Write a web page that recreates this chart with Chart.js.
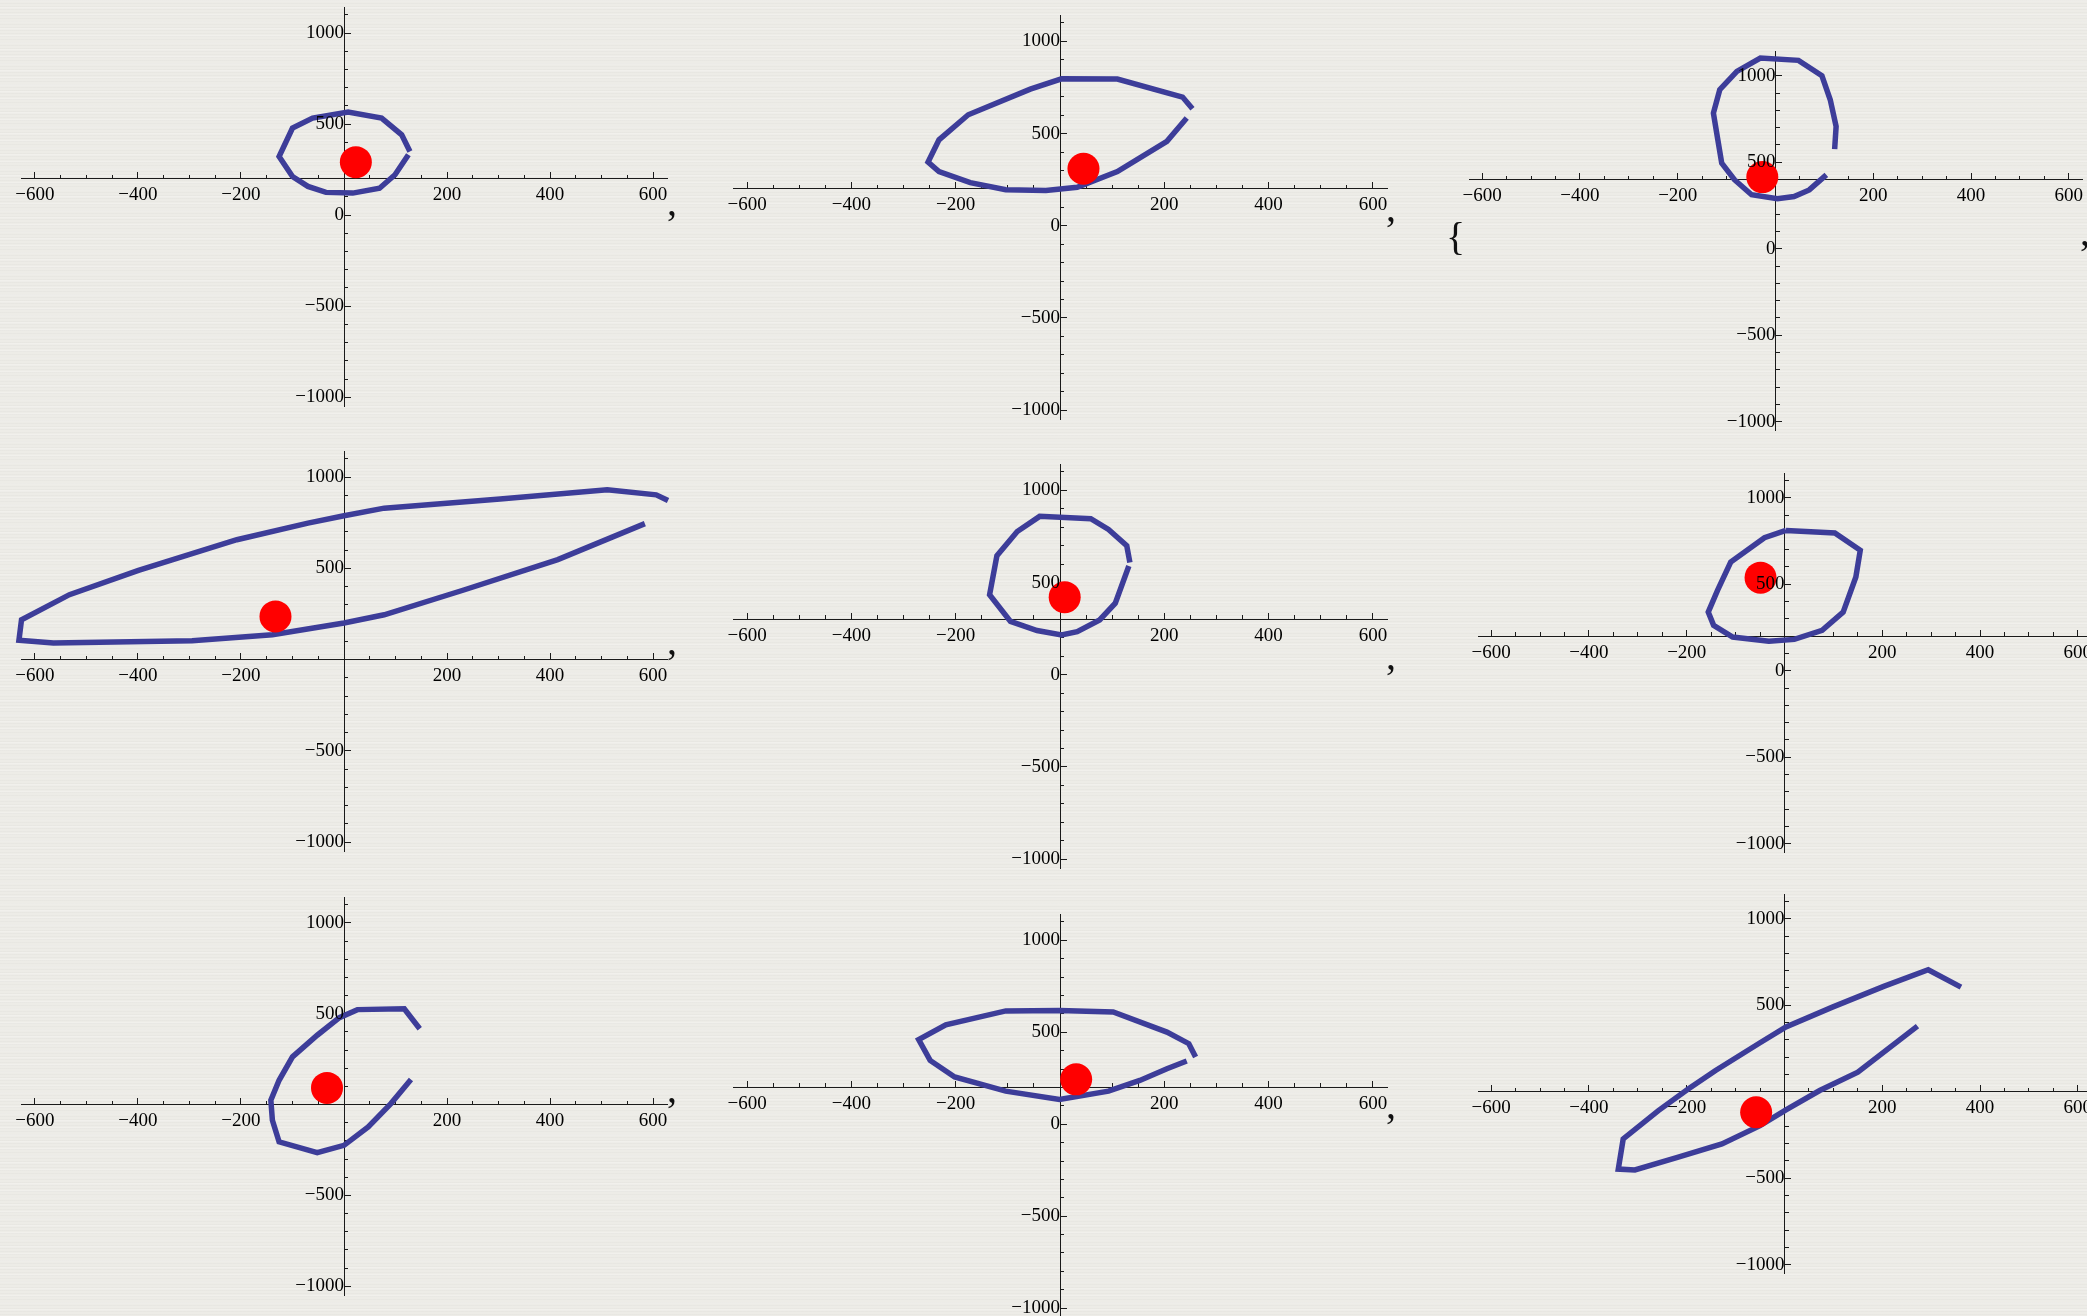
<!DOCTYPE html>
<html>
<head>
<meta charset="utf-8">
<title>Orbits</title>
<script src="https://cdn.jsdelivr.net/npm/chart.js@4.4.1/dist/chart.umd.min.js"></script>
<style>
  html, body { margin: 0; padding: 0; }
  body {
    width: 2087px; height: 1316px; overflow: hidden; position: relative;
    background-color: #edece7;
    background-image:
      repeating-linear-gradient(180deg, rgba(0,0,0,0.02) 0px, rgba(0,0,0,0.02) 1px, transparent 1px, transparent 3px),
      repeating-linear-gradient(180deg, rgba(255,255,255,0.3) 0px, transparent 2px, transparent 7px);
  }
  canvas { position: absolute; }
  .punct { position: absolute; font-family: "Liberation Serif", serif; font-size: 40px; line-height: 1; color: #111; }
</style>
</head>
<body>
<script>
// paths, one per panel, as [x, y]
const curve1 = [[128,350],[112,441],[73,533],[8,566],[-61,533],[-100,478],[-126,322],[-100,212],[-70,158],[-35,125],[17,121],[69,148],[99,222],[125,332]];
const curve2 = [[243,584],[205,458],[110,294],[33,209],[-27,191],[-104,195],[-172,234],[-232,294],[-253,345],[-232,466],[-176,602],[-57,741],[3,797],[110,796],[235,698],[254,635]];
const curve3 = [[121,576],[124,707],[112,861],[95,1000],[47,1089],[-31,1102],[-79,1025],[-114,919],[-127,784],[-118,630],[-110,495],[-84,399],[-49,312],[4,289],[38,302],[69,340],[104,427]];
const curve4 = [[584,745],[415,548],[234,383],[78,246],[0,201],[-139,137],[-295,104],[-564,91],[-631,106],[-626,219],[-533,356],[-399,489],[-208,657],[-70,748],[0,788],[78,830],[303,880],[511,931],[606,903],[629,872]];
const curve5 = [[134,609],[128,700],[93,788],[59,846],[-39,859],[-82,777],[-121,645],[-135,434],[-95,289],[-44,240],[3,216],[33,234],[76,297],[106,388],[132,590]];
const curve6 = [[3,811],[103,796],[155,696],[146,542],[120,339],[77,233],[20,181],[-32,170],[-106,195],[-145,262],[-156,339],[-137,464],[-110,628],[-41,769],[3,811]];
const curve7 = [[147,418],[117,528],[26,523],[-9,479],[-52,382],[-100,263],[-126,134],[-142,24],[-139,-86],[-126,-205],[-52,-264],[0,-224],[47,-123],[91,6],[130,138]];
const curve8 = [[260,365],[247,438],[205,501],[102,610],[-1,619],[-104,616],[-219,541],[-271,460],[-249,347],[-202,257],[-104,180],[-1,135],[93,180],[153,238],[205,302],[243,344]];
const curve9 = [[361,605],[294,705],[203,609],[98,489],[3,374],[-50,283],[-141,123],[-197,16],[-258,-109],[-330,-273],[-340,-447],[-306,-452],[-219,-379],[-128,-302],[-50,-196],[3,-105],[72,7],[150,113],[272,379]];
const curves = [curve1, curve2, curve3, curve4, curve5, curve6, curve7, curve8, curve9];

// the red marker in each panel
const dots = [[23,291],[45,309],[-27,414],[-133,237],[9,421],[-49,538],[-33,92],[31,244],[-58,-119]];

// height at which the horizontal axis crosses
const axisLevels = [200, 200, 400, 0, 300, 200, 0, 200, 0];

// plot ranges and tick steps
const xRange = [-627, 627];
const yRange = [-1048, 1143];
const xSteps = { major: 200, minor: 50 };
const ySteps = { major: 500, minor: 100 };

// where each panel sits on the page: pixel of the origin and px per unit
const frames = [
  { ox: 344.0,  oy: 215.3,  kx: 0.5153, ky: 0.1820 },
  { ox: 1059.7, oy: 225.8,  kx: 0.5216, ky: 0.1842 },
  { ox: 1775.6, oy: 248.8,  kx: 0.4892, ky: 0.1728 },
  { ox: 344.0,  oy: 660.0,  kx: 0.5153, ky: 0.1827 },
  { ox: 1059.7, oy: 674.8,  kx: 0.5216, ky: 0.1842 },
  { ox: 1784.5, oy: 670.3,  kx: 0.4892, ky: 0.1730 },
  { ox: 344.0,  oy: 1104.3, kx: 0.5153, ky: 0.1817 },
  { ox: 1059.7, oy: 1123.8, kx: 0.5216, ky: 0.1838 },
  { ox: 1784.5, oy: 1091.2, kx: 0.4892, ky: 0.1728 }
];

// list punctuation around the panels: [text, left, top]
const punct = [
  [',', 667, 182], [',', 1386, 188], ['{', 1446, 217], [',', 2080, 212],
  [',', 667, 621], [',', 1386, 636],
  [',', 667, 1069], [',', 1386, 1085]
];

const PAD = 40;
const ink = '#1a1a1a';
const lineBlue = 'rgb(61,61,153)';
const tickFont = { family: '"Liberation Serif", "Times New Roman", serif', size: 19 };

Chart.defaults.font.family = tickFont.family;

const fmt = v => (v < 0 ? '\u2212' + (-v) : String(v));

// ticks on every multiple of the step inside the range
function stepTicks(step) {
  return scale => {
    const out = [];
    for (let v = Math.ceil(scale.min / step) * step; v <= scale.max; v += step) {
      out.push({ value: v });
    }
    scale.ticks = out;
  };
}

function axisPair(axis, level, step, minor) {
  const isX = axis === 'x';
  return {
    type: 'linear',
    axis: axis,
    min: isX ? xRange[0] : yRange[0],
    max: isX ? xRange[1] : yRange[1],
    position: isX ? { y: level } : { x: 0 },
    afterBuildTicks: stepTicks(step),
    border: { display: !minor, color: ink, width: 1 },
    grid: {
      drawOnChartArea: false,
      drawTicks: true,
      tickLength: minor ? -4 : -7,
      tickColor: ink,
      tickWidth: 1
    },
    ticks: {
      display: !minor,
      autoSkip: false,
      maxRotation: 0,
      minRotation: 0,
      padding: isX ? 12 : 22,
      color: '#000',
      font: tickFont,
      z: 1,
      callback: v => {
        if (v === 0 && (isX || level === 0)) return '';
        return fmt(v);
      }
    }
  };
}

curves.forEach((curve, i) => {
  const f = frames[i];
  const w = (xRange[1] - xRange[0]) * f.kx;
  const h = (yRange[1] - yRange[0]) * f.ky;
  const left = f.ox + xRange[0] * f.kx;
  const top = f.oy - yRange[1] * f.ky;

  const canvas = document.createElement('canvas');
  canvas.width = Math.round(w + 2 * PAD);
  canvas.height = Math.round(h + 2 * PAD);
  canvas.style.left = (left - PAD) + 'px';
  canvas.style.top = (top - PAD) + 'px';
  document.body.appendChild(canvas);

  const level = axisLevels[i];
  new Chart(canvas, {
    type: 'scatter',
    data: {
      datasets: [
        {
          data: [{ x: dots[i][0], y: dots[i][1] }],
          xAxisID: 'x', yAxisID: 'y',
          pointRadius: 16,
          pointBackgroundColor: '#ff0000',
          pointBorderWidth: 0,
          clip: false
        },
        {
          data: curve.map(p => ({ x: p[0], y: p[1] })),
          xAxisID: 'x', yAxisID: 'y',
          showLine: true,
          borderColor: lineBlue,
          borderWidth: 5.5,
          borderJoinStyle: 'miter',
          tension: 0,
          pointRadius: 0,
          clip: false
        }
      ]
    },
    options: {
      responsive: false,
      animation: false,
      events: [],
      layout: { padding: PAD },
      plugins: { legend: { display: false }, tooltip: { enabled: false } },
      scales: {
        x: axisPair('x', level, xSteps.major, false),
        xMinor: axisPair('x', level, xSteps.minor, true),
        y: axisPair('y', level, ySteps.major, false),
        yMinor: axisPair('y', level, ySteps.minor, true)
      }
    }
  });
});

punct.forEach(([t, x, y]) => {
  const d = document.createElement('div');
  d.className = 'punct';
  d.textContent = t;
  d.style.left = x + 'px';
  d.style.top = y + 'px';
  document.body.appendChild(d);
});
</script>
</body>
</html>
